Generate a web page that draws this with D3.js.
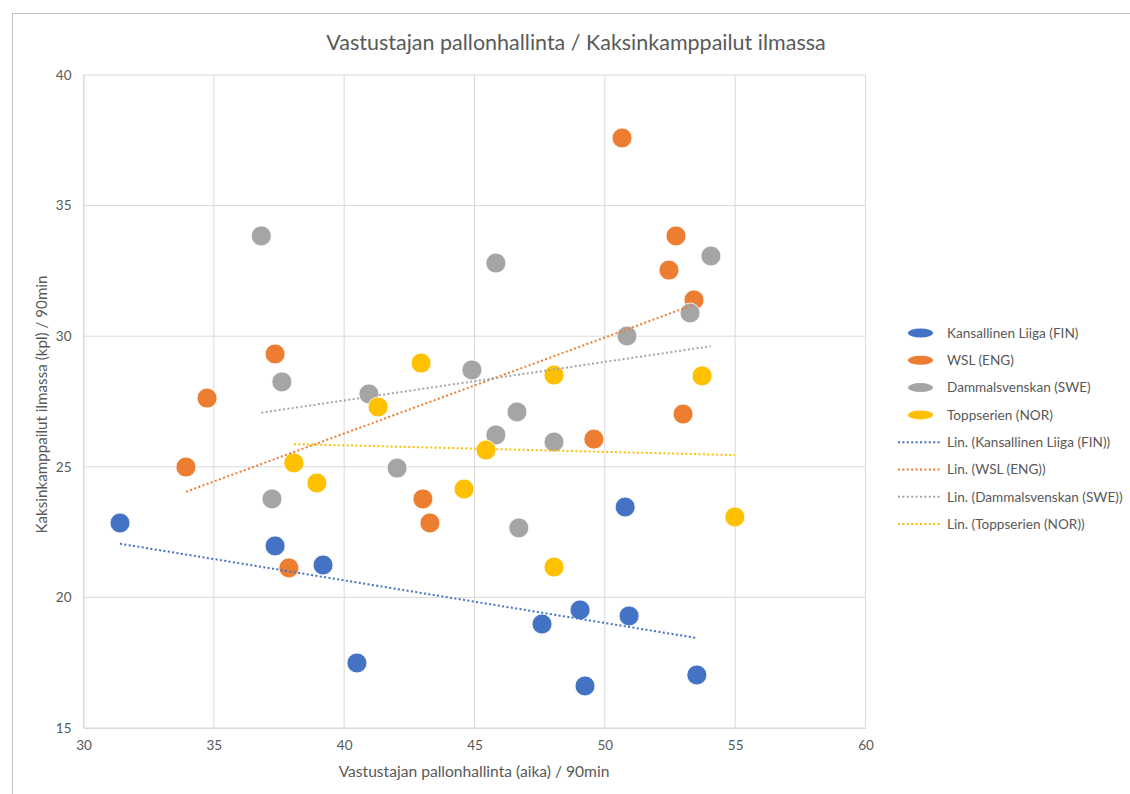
<!DOCTYPE html>
<html>
<head>
<meta charset="utf-8">
<script src="https://cdn.jsdelivr.net/npm/d3@7"></script>
<style>
  html, body { margin: 0; padding: 0; background: #fff; }
  svg { display: block; font-family: Lato, "Open Sans", sans-serif; }
</style>
</head>
<body>
<svg id="chart" width="1130" height="794"></svg>
<script>
// ---- Data ----
const seriesNames = ["Kansallinen Liiga (FIN)", "WSL (ENG)", "Dammalsvenskan (SWE)", "Toppserien (NOR)"];

const finX = [31.40, 37.35, 39.19, 40.49, 47.59, 49.05, 49.24, 50.78, 50.93, 53.53];
const finY = [22.85, 21.97, 21.24, 17.49, 18.98, 19.52, 16.61, 23.46, 19.29, 17.03];

const engX = [33.93, 34.74, 37.35, 37.88, 43.02, 43.29, 49.58, 50.66, 52.46, 52.73, 53.00, 53.42];
const engY = [24.99, 27.63, 29.32, 21.13, 23.77, 22.85, 26.06, 37.59, 32.53, 33.84, 27.02, 31.39];

const sweX = [36.82, 37.61, 37.23, 40.95, 42.03, 44.90, 45.82, 45.82, 46.63, 46.70, 48.05, 50.85, 53.27, 54.07];
const sweY = [33.84, 28.25, 23.77, 27.79, 24.95, 28.71, 32.80, 26.22, 27.10, 22.66, 25.95, 30.01, 30.89, 33.07];

const norX = [38.07, 38.95, 41.30, 42.95, 44.60, 45.44, 48.05, 48.05, 53.73, 54.99];
const norY = [25.15, 24.38, 27.29, 28.97, 24.15, 25.64, 28.51, 21.16, 28.48, 23.08];

const xTicks = [30, 35, 40, 45, 50, 55, 60];
const yTicks = [15, 20, 25, 30, 35, 40];

const titleText = "Vastustajan pallonhallinta / Kaksinkamppailut ilmassa";
const xTitle = "Vastustajan pallonhallinta (aika) / 90min";
const yTitle = "Kaksinkamppailut ilmassa (kpl) / 90min";

// ---- Layout / style ----
const colors = ["#4472C4", "#ED7D31", "#A5A5A5", "#FFC000"];
const textColor = "#595959";
const gridColor = "#D9D9D9";

const plot = { left: 83.5, right: 865.5, top: 75, bottom: 728 };

const svg = d3.select("#chart");

// outer chart border
svg.append("rect")
  .attr("x", 12.5).attr("y", 13.5)
  .attr("width", 1130).attr("height", 800)
  .attr("fill", "#fff").attr("stroke", "#BFBFBF").attr("stroke-width", 1);

const x = d3.scaleLinear().domain([30, 60]).range([plot.left, plot.right]);
const y = d3.scaleLinear().domain([15, 40]).range([plot.bottom, plot.top]);

// gridlines
const g = svg.append("g");
g.selectAll(".vg").data(xTicks).join("line")
  .attr("x1", d => x(d)).attr("x2", d => x(d))
  .attr("y1", plot.top).attr("y2", plot.bottom)
  .attr("stroke", gridColor).attr("stroke-width", 1);
g.selectAll(".hg").data(yTicks).join("line")
  .attr("x1", plot.left).attr("x2", plot.right)
  .attr("y1", d => y(d)).attr("y2", d => y(d))
  .attr("stroke", gridColor).attr("stroke-width", 1);

// axes (labels only)
const xAxis = d3.axisBottom(x).tickValues(xTicks).tickSize(0).tickPadding(12).tickFormat(d3.format("d"));
const yAxis = d3.axisLeft(y).tickValues(yTicks).tickSize(0).tickPadding(12).tickFormat(d3.format("d"));

const xg = svg.append("g").attr("transform", `translate(0,${plot.bottom})`).call(xAxis);
const yg = svg.append("g").attr("transform", `translate(${plot.left},0)`).call(yAxis);
[xg, yg].forEach(a => {
  a.select(".domain").attr("stroke", gridColor);
  a.selectAll("text").attr("fill", textColor).attr("font-size", 13.5).attr("font-family", "Lato, sans-serif");
});

// titles
svg.append("text").attr("x", 576).attr("y", 50)
  .attr("text-anchor", "middle").attr("fill", textColor).attr("font-size", 21.5)
  .text(titleText);
svg.append("text").attr("x", 474).attr("y", 777)
  .attr("text-anchor", "middle").attr("fill", textColor).attr("font-size", 15.6)
  .text(xTitle);
svg.append("text").attr("transform", `translate(47,${(plot.top + plot.bottom) / 2 + 3}) rotate(-90)`)
  .attr("text-anchor", "middle").attr("fill", textColor).attr("font-size", 15.2)
  .text(yTitle);

// series
const series = [
  { name: seriesNames[0], xs: finX, ys: finY, color: colors[0] },
  { name: seriesNames[1], xs: engX, ys: engY, color: colors[1] },
  { name: seriesNames[2], xs: sweX, ys: sweY, color: colors[2] },
  { name: seriesNames[3], xs: norX, ys: norY, color: colors[3] }
];

function linreg(xs, ys) {
  const n = xs.length;
  const mx = d3.mean(xs), my = d3.mean(ys);
  let sxy = 0, sxx = 0;
  for (let i = 0; i < n; i++) { sxy += (xs[i] - mx) * (ys[i] - my); sxx += (xs[i] - mx) ** 2; }
  const b = sxy / sxx, a = my - b * mx;
  return { a, b };
}

const markG = svg.append("g");
const trendG = svg.append("g");

series.forEach(s => {
  const pts = s.xs.map((v, i) => [v, s.ys[i]]);
  markG.append("g").selectAll("circle").data(pts).join("circle")
    .attr("cx", d => x(d[0])).attr("cy", d => y(d[1]))
    .attr("r", 10)
    .attr("fill", s.color)
    .attr("stroke", "#fff").attr("stroke-width", 0.8);
});

series.forEach(s => {
  const { a, b } = linreg(s.xs, s.ys);
  const x0 = d3.min(s.xs), x1 = d3.max(s.xs);
  trendG.append("line")
    .attr("x1", x(x0)).attr("y1", y(a + b * x0))
    .attr("x2", x(x1)).attr("y2", y(a + b * x1))
    .attr("stroke", s.color).attr("stroke-width", 2)
    .attr("stroke-dasharray", "2,2.4");
});

// legend
const leg = svg.append("g");
const legX = 898, legTextX = 947, legY0 = 333, legStep = 27.3;
series.forEach((s, i) => {
  const yy = legY0 + i * legStep;
  leg.append("ellipse").attr("cx", 920.5).attr("cy", yy).attr("rx", 12.5).attr("ry", 4.5)
    .attr("fill", s.color);
  leg.append("text").attr("x", legTextX).attr("y", yy + 4.8)
    .attr("fill", textColor).attr("font-size", 13.6).text(s.name);
});
series.forEach((s, i) => {
  const yy = legY0 + (i + 4) * legStep;
  leg.append("line").attr("x1", legX).attr("x2", 941).attr("y1", yy).attr("y2", yy)
    .attr("stroke", s.color).attr("stroke-width", 2).attr("stroke-dasharray", "2,2.4");
  leg.append("text").attr("x", legTextX).attr("y", yy + 4.8)
    .attr("fill", textColor).attr("font-size", 13.6).text(`Lin. (${s.name})`);
});
</script>
</body>
</html>
